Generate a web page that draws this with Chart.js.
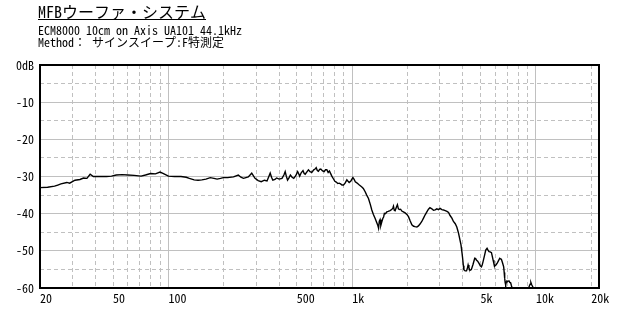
<!DOCTYPE html>
<html>
<head>
<meta charset="utf-8">
<script src="https://cdn.jsdelivr.net/npm/chart.js@4"></script>
<style>
  body { margin: 0; background: #fff; }
  #wrap { position: relative; width: 640px; height: 320px; }
  #chart { position: absolute; left: 0; top: 0; }
  .hd { position: absolute; left: 38px; white-space: pre; color: #000;
        font-family: "Noto Sans Mono CJK JP", "Noto Sans CJK JP", monospace; }
  #t1 { top: 2px; font-size: 16px; line-height: 18px; text-decoration: underline; }
  #t2 { top: 24px; font-size: 12px; line-height: 12px; }
  #t3 { top: 36px; font-size: 12px; line-height: 12px; }
</style>
</head>
<body>
<div id="wrap">
  <canvas id="chart" width="640" height="320"></canvas>
  <div class="hd" id="t1">MFBウーファ・システム</div>
  <div class="hd" id="t2">ECM8000 10cm on Axis UA101 44.1kHz</div>
  <div class="hd" id="t3">Method： サインスイープ:F特測定</div>
</div>
<script>
const freqHz = [
  20, 22, 24, 25, 26, 28, 29, 31, 33, 34.5, 36, 37.5, 39, 42, 46, 49, 52, 56, 60, 65,
  71, 75, 80, 85, 90, 94, 100, 108, 117, 125, 130, 138, 145, 152, 160, 169, 177, 184, 192, 199,
  210, 226, 240, 248, 256, 264, 272, 284, 296, 308, 320, 333, 344, 352, 358, 364, 370, 380, 388, 400,
  415, 425, 432, 438, 445, 453, 461, 471, 481, 493, 505, 511, 518, 528, 540, 548, 555, 566, 578, 590,
  603, 618, 628, 637, 646, 655, 665, 675, 690, 704, 716, 728, 740, 752, 765, 775, 790, 805, 819, 835,
  850, 865, 880, 897, 915, 936, 950, 963, 984, 1009, 1025, 1040, 1060, 1090, 1129, 1150, 1177, 1200, 1227, 1255,
  1279, 1305, 1334, 1360, 1380, 1392, 1405, 1418, 1432, 1450, 1468, 1483, 1498, 1520, 1544, 1570, 1608, 1640, 1665, 1678,
  1695, 1713, 1740, 1763, 1785, 1808, 1835, 1863, 1900, 1942, 1985, 2025, 2070, 2113, 2160, 2200, 2250, 2294, 2340, 2393,
  2445, 2496, 2550, 2602, 2650, 2714, 2770, 2830, 2890, 2951, 3010, 3078, 3140, 3209, 3280, 3346, 3411, 3490, 3558, 3639,
  3711, 3760, 3794, 3850, 3911, 3960, 3992, 4030, 4056, 4120, 4192, 4240, 4276, 4320, 4365, 4410, 4456, 4550, 4646, 4700,
  4743, 4820, 4903, 4980, 5053, 5100, 5158, 5250, 5333, 5422, 5490, 5560, 5640, 5729, 5790, 5849, 5910, 5971, 6060, 6146,
  6250, 6355, 6420, 6488, 6580, 6678, 6720, 6762, 6800, 6847, 6900, 6958, 7040, 7131, 7210, 7287, 7360, 7441, 7600, 8000,
  8500, 9000, 9190, 9300, 9390, 9500, 9600, 9760, 10000, 11000, 12000, 14000, 17000, 20000, 22050
];
const levelDb = [
  -33.0, -32.9, -32.6, -32.3, -32.0, -31.6, -31.8, -31.0, -30.8, -30.4, -30.5, -29.4, -30.0, -30.0, -30.0, -29.9, -29.6, -29.5, -29.6, -29.7,
  -29.9, -29.6, -29.2, -29.3, -28.8, -29.2, -29.9, -30.0, -30.0, -30.2, -30.5, -30.9, -31.0, -30.9, -30.7, -30.3, -30.5, -30.7, -30.5, -30.3,
  -30.3, -30.1, -29.6, -30.2, -30.5, -30.3, -30.1, -29.1, -30.5, -31.1, -31.4, -31.0, -31.2, -30.0, -29.1, -30.2, -31.0, -30.8, -30.4, -30.7,
  -30.5, -29.6, -28.7, -29.9, -31.0, -30.4, -29.6, -30.2, -30.5, -29.8, -28.7, -29.2, -29.9, -29.0, -28.4, -29.2, -29.4, -28.8, -28.2, -28.7,
  -28.9, -28.2, -28.0, -27.6, -28.4, -28.6, -28.1, -28.0, -28.5, -28.7, -28.2, -28.2, -28.9, -28.5, -29.3, -29.9, -30.6, -31.3, -31.5, -31.9,
  -31.8, -32.0, -32.3, -32.3, -31.8, -30.9, -31.3, -31.6, -31.2, -30.3, -30.8, -31.4, -31.7, -32.2, -32.8, -33.2, -34.1, -35.0, -35.9, -37.5,
  -39.0, -40.2, -41.3, -42.4, -43.2, -43.9, -42.0, -41.6, -43.2, -42.2, -41.3, -40.9, -39.9, -40.0, -39.5, -39.4, -39.2, -38.9, -38.5, -38.0,
  -39.1, -39.2, -38.3, -37.6, -38.7, -38.9, -38.8, -39.3, -39.5, -39.8, -40.2, -40.8, -42.0, -43.0, -43.4, -43.5, -43.6, -43.3, -42.8, -42.1,
  -41.2, -40.3, -39.5, -38.8, -38.4, -38.7, -39.1, -39.0, -38.7, -38.9, -38.6, -38.9, -39.0, -39.2, -39.4, -39.7, -40.5, -41.2, -42.1, -42.7,
  -43.6, -44.6, -45.3, -46.8, -48.4, -50.5, -52.0, -54.0, -55.1, -55.4, -55.4, -54.6, -53.8, -54.6, -55.1, -55.2, -55.0, -53.6, -52.0, -52.1,
  -52.5, -52.8, -53.4, -54.0, -54.3, -53.8, -52.9, -51.3, -49.8, -49.3, -49.8, -50.2, -50.3, -50.5, -51.5, -52.5, -53.5, -54.1, -53.8, -53.4,
  -52.7, -52.0, -52.2, -52.3, -53.2, -54.3, -55.8, -57.4, -58.5, -59.2, -58.4, -58.1, -58.2, -58.1, -58.5, -58.6, -59.4, -60.2, -62.0, -63.5,
  -62.5, -61.0, -59.6, -59.0, -58.5, -59.2, -59.6, -60.5, -63.0, -66.0, -68.0, -70.0, -72.0, -75.0, -78.0
];

// grid positions and labels
const xGridHz = [20, 30, 40, 50, 60, 70, 80, 90, 100, 200, 300, 400, 500, 600, 700, 800, 900,
  1000, 2000, 3000, 4000, 5000, 6000, 7000, 8000, 9000, 10000, 20000];
const xMajorHz = [100, 1000, 10000];
const xLabels = { 20: '20', 50: '50', 100: '100', 500: '500', 1000: '1k', 5000: '5k', 10000: '10k', 20000: '20k' };
const yMin = -60, yMax = 0;

const gridGray = '#c0c0c0';
const monoFont = '"Noto Sans Mono CJK JP", "Noto Sans CJK JP", monospace';

// black frame round the plot area
const framePlugin = {
  id: 'frame',
  afterDraw(chart) {
    const { ctx, chartArea: a } = chart;
    ctx.save();
    ctx.strokeStyle = '#000';
    ctx.lineWidth = 2;
    ctx.strokeRect(a.left, a.top, a.right - a.left, a.bottom - a.top);
    ctx.restore();
  }
};

const points = freqHz.map((f, i) => ({ x: f, y: levelDb[i] }));

new Chart(document.getElementById('chart').getContext('2d'), {
  type: 'line',
  data: {
    datasets: [{
      data: points,
      borderColor: '#000',
      borderWidth: 1.4,
      pointRadius: 0,
      tension: 0,
      fill: false
    }]
  },
  options: {
    responsive: false,
    animation: false,
    layout: { padding: { top: 65, right: 41, left: 0, bottom: 0 } },
    plugins: { legend: { display: false }, tooltip: { enabled: false } },
    scales: {
      x: {
        type: 'logarithmic',
        min: 20,
        max: 22050,
        afterBuildTicks: (scale) => { scale.ticks = xGridHz.map(v => ({ value: v })); },
        afterFit: (scale) => { scale.height = 32; },
        grid: { color: gridGray, lineWidth: 1, drawTicks: false },
        border: {
          display: false,
          dash: (c) => (c.tick && xMajorHz.includes(c.tick.value)) ? [] : [4, 3]
        },
        ticks: {
          autoSkip: false,
          maxRotation: 0,
          align: 'start',
          padding: 3,
          color: '#000',
          font: { family: monoFont, size: 12 },
          callback: (v) => xLabels[v] || ''
        }
      },
      y: {
        min: yMin,
        max: yMax,
        afterFit: (scale) => { scale.width = 40; },
        grid: { color: gridGray, lineWidth: 1, drawTicks: false },
        border: {
          display: false,
          dash: (c) => (c.tick && c.tick.value % 10 === 0) ? [] : [4, 3]
        },
        ticks: {
          stepSize: 5,
          padding: 6,
          color: '#000',
          font: { family: monoFont, size: 12 },
          callback: (v) => v === 0 ? '0dB' : (v % 10 === 0 ? String(v) : '')
        }
      }
    }
  },
  plugins: [framePlugin]
});
</script>
</body>
</html>
